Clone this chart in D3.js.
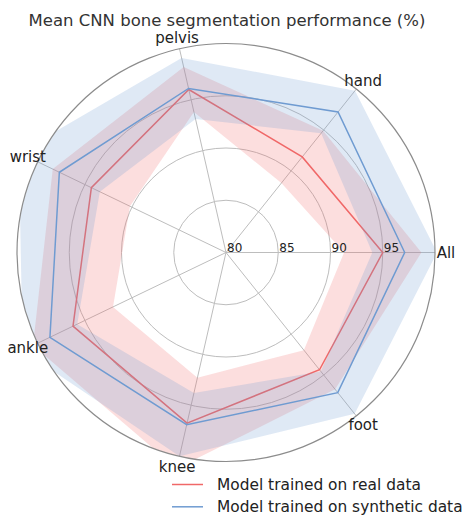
<!DOCTYPE html>
<html>
<head>
<meta charset="utf-8">
<script src="https://cdn.jsdelivr.net/npm/d3@7"></script>
<style>
  body { margin: 0; background: #fff; }
  svg { display: block; font-family: "DejaVu Sans", sans-serif; }
</style>
</head>
<body>
<script>
var categories = ["All", "hand", "pelvis", "wrist", "ankle", "knee", "foot"];
var realMean = [95.0, 91.7, 96.0, 94.3, 96.25, 96.75, 94.35];
var realStd = [3.7, 3.2, 2.2, 4.1, 4.25, 4.45, 2.4];
var synthMean = [97.1, 97.2, 96.1, 97.7, 98.7, 96.9, 97.15];
var synthStd = [3.1, 2.6, 3.0, 4.3, 2.9, 3.1, 2.6];
var rTicks = [80, 85, 90, 95];
var legendLabels = ["Model trained on real data", "Model trained on synthetic data"];

var WIDTH = 467, HEIGHT = 515;
var CX = 226, CY = 252.5, R = 209;
var RED = "#f06868", BLUE = "#6f9bd1";

var svg = d3.select("body")
    .append("svg")
    .attr("width", WIDTH)
    .attr("height", HEIGHT);

var r = d3.scaleLinear().domain([80, 100]).range([0, R]);
// index -> lineRadial angle (clockwise from 12 o'clock), first axis at 3 o'clock, going ccw
var angle = d3.scaleLinear().domain([0, categories.length]).range([Math.PI / 2, Math.PI / 2 - 2 * Math.PI]);

var g = svg.append("g").attr("transform", "translate(" + CX + "," + CY + ")");

svg.append("defs").append("clipPath").attr("id", "clip")
    .append("circle").attr("r", R);

// grid circles
g.selectAll("circle.grid")
    .data(rTicks.slice(1))
    .enter()
    .append("circle")
    .attr("class", "grid")
    .attr("r", function (d) { return r(d); })
    .attr("fill", "none")
    .attr("stroke", "#bdbdbd")
    .attr("stroke-width", 1);

// spokes
g.selectAll("line.spoke")
    .data(categories)
    .enter()
    .append("line")
    .attr("class", "spoke")
    .attr("x1", 0).attr("y1", 0)
    .attr("x2", function (d, i) { return R * Math.sin(angle(i)); })
    .attr("y2", function (d, i) { return -R * Math.cos(angle(i)); })
    .attr("stroke", "#bdbdbd")
    .attr("stroke-width", 1);

var ring = d3.lineRadial()
    .angle(function (d, i) { return angle(i); })
    .radius(function (d) { return r(d); })
    .curve(d3.curveLinearClosed);

function band(mean, std) {
    var lo = mean.map(function (m, i) { return m - std[i]; });
    var hi = mean.map(function (m, i) { return m + std[i]; });
    return ring(hi) + ring(lo);
}

var series = [
    { mean: realMean, std: realStd, color: RED },
    { mean: synthMean, std: synthStd, color: BLUE }
];

var marks = g.append("g").attr("clip-path", "url(#clip)");
series.forEach(function (s) {
    marks.append("path")
        .attr("d", band(s.mean, s.std))
        .attr("fill", s.color)
        .attr("fill-opacity", 0.22)
        .attr("fill-rule", "evenodd")
        .attr("stroke", "none");
    marks.append("path")
        .attr("d", ring(s.mean))
        .attr("fill", "none")
        .attr("stroke", s.color)
        .attr("stroke-width", 1.5);
});

// outer frame
g.append("circle")
    .attr("r", R)
    .attr("fill", "none")
    .attr("stroke", "#8c8c8c")
    .attr("stroke-width", 1.2);

// r tick labels
g.selectAll("text.rtick")
    .data(rTicks)
    .enter()
    .append("text")
    .attr("class", "rtick")
    .attr("x", function (d) { return r(d) + 1; })
    .attr("y", -1)
    .attr("font-size", "12px")
    .attr("fill", "#222")
    .text(function (d) { return d; });

// category labels
g.selectAll("text.cat")
    .data(categories)
    .enter()
    .append("text")
    .attr("class", "cat")
    .attr("x", function (d, i) { return 220 * Math.sin(angle(i)); })
    .attr("y", function (d, i) { return -220 * Math.cos(angle(i)); })
    .attr("text-anchor", "middle")
    .attr("dominant-baseline", "central")
    .attr("font-size", "15px")
    .attr("fill", "#222")
    .text(function (d) { return d; });

// title
svg.append("text")
    .attr("x", 227)
    .attr("y", 25.5)
    .attr("text-anchor", "middle")
    .attr("font-size", "16.5px")
    .attr("fill", "#333")
    .text("Mean CNN bone segmentation performance (%)");

// legend
var legend = svg.selectAll("g.legend")
    .data(legendLabels)
    .enter()
    .append("g")
    .attr("class", "legend")
    .attr("transform", function (d, i) { return "translate(172," + (484.5 + i * 22.3) + ")"; });
legend.append("line")
    .attr("x1", 0).attr("x2", 31)
    .attr("stroke", function (d, i) { return series[i].color; })
    .attr("stroke-width", 1.5);
legend.append("text")
    .attr("x", 45)
    .attr("dominant-baseline", "central")
    .attr("font-size", "15.4px")
    .attr("fill", "#222")
    .text(function (d) { return d; });
</script>
</body>
</html>
